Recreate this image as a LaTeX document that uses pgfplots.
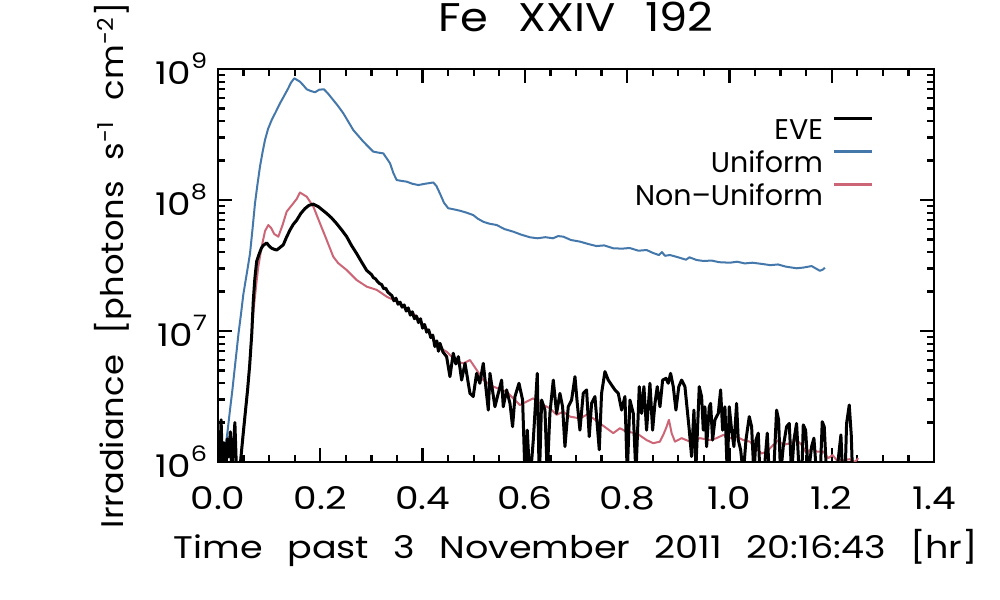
\documentclass[border=0pt]{standalone}
\usepackage{fontspec}
\setmainfont{Poppins}
\newfontfamily\tickfont{Poppins}[FakeStretch=1.2]
\newfontfamily\labfont{Poppins}[FakeStretch=1.12, WordSpace=2.5]
\newfontfamily\xlabfont{Poppins}[FakeStretch=1.17, WordSpace=2.5]
\newfontfamily\ylabfont{Poppins}[FakeStretch=1.08, WordSpace=2.3]
\usepackage{pgfplots}
\pgfplotsset{compat=1.18}
\definecolor{tolblue}{HTML}{4477AA}
\definecolor{tolrose}{HTML}{CC6677}
\newcommand\sups[1]{\raisebox{0.95ex}{\fontsize{8.5}{10}\selectfont #1}}
\pgfplotstableread{
t v
0.008 0.8e6
0.012 1.1e6
0.016 1.4e6
0.020 1.9e6
0.024 2.6e6
0.028 3.5e6
0.032 4.9e6
0.036 6.8e6
0.040 9.5e6
0.045 1.35e7
0.0495 1.9e7
0.056 2.7e7
0.0626 3.9e7
0.0675 6.0e7
0.0723 9.4e7
0.077 1.3e8
0.0821 1.8e8
0.087 2.3e8
0.0919 2.87e8
0.098 3.5e8
0.105 4.08e8
0.113 4.7e8
0.1212 5.47e8
0.129 6.2e8
0.1374 7.13e8
0.143 7.9e8
0.1492 8.49e8
0.1545 8.25e8
0.1603 8.0e8
0.167 7.5e8
0.1734 7.0e8
0.181 6.8e8
0.1896 6.64e8
0.198 6.95e8
0.2072 7.0e8
0.215 6.5e8
0.2254 5.79e8
0.235 5.2e8
0.245 4.59e8
0.255 3.95e8
0.2645 3.42e8
0.274 3.1e8
0.2841 2.79e8
0.294 2.55e8
0.3036 2.34e8
0.313 2.3e8
0.3232 2.27e8
0.3363 1.91e8
0.343 1.6e8
0.3494 1.42e8
0.358 1.40e8
0.3689 1.38e8
0.380 1.33e8
0.3916 1.30e8
0.405 1.33e8
0.4209 1.36e8
0.427 1.28e8
0.434 1.12e8
0.442 9.5e7
0.4502 8.65e7
0.460 8.5e7
0.4731 8.28e7
0.486 8.0e7
0.4991 7.67e7
0.508 7.2e7
0.5187 6.82e7
0.530 6.6e7
0.5449 6.44e7
0.560 6.0e7
0.5773 5.73e7
0.592 5.45e7
0.610 5.19e7
0.625 5.1e7
0.640 5.2e7
0.655 5.1e7
0.665 5.3e7
0.675 5.25e7
0.690 4.95e7
0.7077 4.81e7
0.725 4.6e7
0.740 4.45e7
0.755 4.5e7
0.7728 4.28e7
0.790 4.25e7
0.805 4.3e7
0.822 4.1e7
0.8381 4.15e7
0.850 3.95e7
0.862 3.8e7
0.868 4.0e7
0.874 3.75e7
0.8837 3.8e7
0.900 3.65e7
0.915 3.5e7
0.922 3.65e7
0.9359 3.48e7
0.950 3.42e7
0.965 3.45e7
0.980 3.35e7
1.001 3.32e7
1.015 3.38e7
1.030 3.28e7
1.045 3.32e7
1.0661 3.24e7
1.080 3.18e7
1.095 3.22e7
1.110 3.1e7
1.1314 3.01e7
1.145 3.05e7
1.1607 3.13e7
1.1769 2.88e7
1.183 2.95e7
1.1867 3.04e7
}\uniform
\pgfplotstableread{
t v
0.040 0.9e6
0.044 1.0e6
0.050 1.8e6
0.055 2.8e6
0.060 4.6e6
0.065 8.5e6
0.070 1.5e7
0.075 2.3e7
0.0788 3.1e7
0.0854 4.4e7
0.092 5.8e7
0.0984 6.44e7
0.104 6.1e7
0.110 5.5e7
0.118 5.25e7
0.126 6.4e7
0.1343 8.15e7
0.1473 9.44e7
0.154 1.02e8
0.1603 1.14e8
0.1734 1.06e8
0.1864 8.9e7
0.1994 6.64e7
0.2125 4.95e7
0.2254 3.69e7
0.2352 3.29e7
0.2516 2.92e7
0.2711 2.45e7
0.2907 2.18e7
0.3103 2.06e7
0.3298 1.83e7
0.3558 1.63e7
0.3885 1.29e7
0.410 1.02e7
0.434 7.38e6
0.447 6.95e6
0.4666 5.84e6
0.4796 5.66e6
0.4927 6.0e6
0.5057 5.04e6
0.5187 4.22e6
0.5383 3.76e6
0.5643 3.44e6
0.5904 2.72e6
0.6034 2.89e6
0.6165 3.06e6
0.6295 2.8e6
0.649 2.57e6
0.6621 2.29e6
0.6751 2.42e6
0.6881 2.22e6
0.7077 2.15e6
0.7207 2.29e6
0.7338 2.15e6
0.7468 1.97e6
0.7598 1.81e6
0.7729 1.66e6
0.7859 1.81e6
0.7989 1.7e6
0.8185 1.66e6
0.838 1.47e6
0.8511 1.39e6
0.8641 1.43e6
0.8707 1.61e6
0.8772 1.86e6
0.8817 2.1e6
0.887 1.66e6
0.8935 1.43e6
0.9065 1.52e6
0.9228 1.43e6
0.9423 1.52e6
0.9619 1.47e6
0.9749 1.52e6
0.988 1.61e6
1.001 1.52e6
1.014 1.56e6
1.0271 1.47e6
1.0401 1.43e6
1.0531 1.27e6
1.0629 1.16e6
1.0727 1.2e6
1.0857 1.35e6
1.0955 1.47e6
1.1053 1.35e6
1.1183 1.39e6
1.1313 1.47e6
1.1411 1.35e6
1.1509 1.16e6
1.1607 1.27e6
1.1704 1.2e6
1.1835 1.2e6
1.1933 1.07e6
1.2017 1.13e6
1.2095 1.035e6
1.2226 1.035e6
1.2356 1.05e6
1.2454 1.0e6
1.252 1.07e6
}\nonuniform
\pgfplotstableread{
t v
0.000 1.2e6
0.003 0.85e6
0.006 2.1e6
0.009 0.9e6
0.012 1.4e6
0.015 0.7e6
0.018 1.5e6
0.021 1.1e6
0.024 1.7e6
0.027 0.8e6
0.030 1.3e6
0.033 2.0e6
0.036 0.9e6
0.039 0.6e6
0.042 0.8e6
0.045 1.1e6
0.049 1.6e6
0.053 2.3e6
0.058 3.6e6
0.062 5.5e6
0.066 9.5e6
0.069 1.7e7
0.072 2.5e7
0.0756 3.4e7
0.0808 3.9e7
0.0850 4.3e7
0.0886 4.5e7
0.0952 4.7e7
0.100 4.45e7
0.105 4.28e7
0.110 4.2e7
0.1147 4.15e7
0.120 4.3e7
0.1277 4.55e7
0.134 5.2e7
0.1408 5.9e7
0.147 6.5e7
0.1538 7.0e7
0.162 7.9e7
0.1701 8.6e7
0.178 9.1e7
0.1864 9.3e7
0.1961 8.9e7
0.204 8.4e7
0.2125 7.9e7
0.222 7.3e7
0.232 6.6e7
0.242 5.9e7
0.2516 5.25e7
0.261 4.5e7
0.2711 3.9e7
0.281 3.35e7
0.2907 2.9e7
0.300 2.70e7
0.304 2.55e7
0.308 2.50e7
0.312 2.38e7
0.316 2.30e7
0.320 2.26e7
0.324 2.10e7
0.328 2.12e7
0.332 1.98e7
0.336 1.92e7
0.340 1.86e7
0.344 1.70e7
0.348 1.78e7
0.352 1.60e7
0.356 1.66e7
0.360 1.52e7
0.364 1.58e7
0.368 1.42e7
0.372 1.50e7
0.376 1.32e7
0.380 1.40e7
0.384 1.24e7
0.388 1.30e7
0.392 1.16e7
0.396 1.24e7
0.400 1.05e7
0.404 1.12e7
0.408 9.8e6
0.412 1.02e7
0.416 8.9e6
0.420 9.3e6
0.424 7.6e6
0.428 8.4e6
0.431 7.0e6
0.434 8.05e6
0.440 6.9e6
0.447 6.37e6
0.4535 4.48e6
0.460 6.76e6
0.465 5.6e6
0.470 6.37e6
0.4764 4.22e6
0.483 5.66e6
0.4927 3.34e6
0.499 3.16e6
0.5057 4.75e6
0.512 3.99e6
0.5187 5.66e6
0.5285 2.49e6
0.5318 4.75e6
0.5415 2.64e6
0.548 3.34e6
0.5546 4.22e6
0.5578 2.64e6
0.5643 3.55e6
0.5709 2.8e6
0.576 1.86e6
0.5807 3.16e6
0.5885 3.99e6
0.5956 2.97e6
0.6002 0.8e6
0.6047 1.75e6
0.610 0.7e6
0.6165 1.47e6
0.6243 4.75e6
0.6282 0.7e6
0.6328 2.97e6
0.6393 2.49e6
0.6438 0.8e6
0.649 2.35e6
0.6556 4.22e6
0.6621 2.35e6
0.6686 3.34e6
0.6738 2.64e6
0.6784 1.31e6
0.6849 2.64e6
0.6914 2.97e6
0.698 4.48e6
0.7025 2.8e6
0.7077 1.75e6
0.7142 3.34e6
0.7207 3.55e6
0.7259 1.56e6
0.7305 2.8e6
0.737 3.16e6
0.7455 1.24e6
0.750 3.34e6
0.7566 4.9e6
0.7631 4.22e6
0.7696 3.87e6
0.7761 3.55e6
0.7827 3.34e6
0.7892 2.49e6
0.7957 3.16e6
0.8002 0.8e6
0.8055 2.97e6
0.812 2.35e6
0.8172 0.8e6
0.8237 3.76e6
0.8283 2.35e6
0.8328 3.76e6
0.838 1.75e6
0.8446 3.99e6
0.8498 1.75e6
0.8544 2.8e6
0.8589 3.76e6
0.8642 2.64e6
0.8694 4.22e6
0.8759 4.35e6
0.8804 3.99e6
0.885 4.75e6
0.8902 3.76e6
0.8954 2.49e6
0.901 3.76e6
0.9065 4.22e6
0.913 3.76e6
0.9176 2.49e6
0.9215 1.75e6
0.926 1.1e6
0.9306 2.49e6
0.9345 0.9e6
0.941 3.76e6
0.9456 3.16e6
0.9489 1.75e6
0.9521 2.64e6
0.9554 1.31e6
0.9606 2.64e6
0.9632 2.8e6
0.9671 1.47e6
0.9717 2.1e6
0.9782 2.35e6
0.9828 3.55e6
0.9867 1.75e6
0.9912 2.64e6
0.9958 0.8e6
0.9997 2.64e6
1.0043 1.75e6
1.0088 1.31e6
1.014 2.8e6
1.0173 1.47e6
1.0219 1.24e6
1.0271 0.8e6
1.0323 1.47e6
1.0388 2.22e6
1.0434 1.86e6
1.0479 0.8e6
1.0518 1.47e6
1.0564 1.66e6
1.0597 0.8e6
1.0662 0.7e6
1.074 1.66e6
1.0779 0.8e6
1.0857 0.7e6
1.0922 2.49e6
1.0962 2.1e6
1.100 0.8e6
1.1053 1.31e6
1.1118 1.86e6
1.117 1.97e6
1.1216 0.8e6
1.1261 1.47e6
1.1313 1.97e6
1.1366 0.8e6
1.1411 0.7e6
1.1444 1.92e6
1.149 1.75e6
1.1542 0.8e6
1.1607 1.31e6
1.1652 1.52e6
1.1704 0.8e6
1.177 0.7e6
1.1815 2.03e6
1.1854 1.86e6
1.190 0.8e6
1.1998 0.7e6
1.2095 0.8e6
1.218 1.61e6
1.2213 0.8e6
1.2258 0.7e6
1.2291 1.97e6
1.2343 2.72e6
1.2382 1.61e6
1.2408 0.8e6
}\eve
\begin{document}
\fontsize{12.5}{15}\selectfont
\begin{tikzpicture}
\path[use as bounding box] (0,0) rectangle (400pt,240pt);
\begin{axis}[
  at={(87.2pt,55.2pt)}, anchor=south west,
  scale only axis, width=286.4pt, height=157.2pt,
  xmin=0, xmax=1.4,
  ymode=log, ymin=1e6, ymax=1e9,
  xtick={0,0.2,0.4,0.6,0.8,1.0,1.2,1.4},
  xticklabels={0.0,0.2,0.4,0.6,0.8,1.0,1.2,1.4},
  minor x tick num=3,
  ytick={1e6,1e7,1e8,1e9},
  yticklabels={10\sups{6},10\sups{7},10\sups{8},10\sups{9}},
  minor ytick={2e6,3e6,4e6,5e6,6e6,7e6,8e6,9e6,2e7,3e7,4e7,5e7,6e7,7e7,8e7,9e7,2e8,3e8,4e8,5e8,6e8,7e8,8e8,9e8},
  tick align=inside,
  major tick length=5.6pt, minor tick length=2.8pt,
  every tick/.style={black, line width=0.9pt},
  axis line style={line width=1.1pt},
  ticklabel style={font=\tickfont\fontsize{12.5}{15}\selectfont},
  xticklabel style={yshift=-5.5pt},
  title={Fe XXIV 192},
  title style={at={(axis description cs:0.5,1)}, anchor=center, yshift=14.8pt, font=\labfont\fontsize{16}{19}\selectfont},
  xlabel={Time past 3 November 2011 20:16:43 [hr]},
  xlabel style={at={(axis description cs:0.5,0)}, anchor=center, yshift=-34.4pt, font=\xlabfont\fontsize{12.5}{15}\selectfont},
  ylabel={Irradiance [photons s\textsuperscript{-1} cm\textsuperscript{-2}]},
  ylabel style={at={(axis description cs:-0.146,0.5)}, anchor=center, font=\ylabfont\fontsize{12.5}{15}\selectfont},
  legend style={at={(rel axis cs:1,1)}, anchor=north east, xshift=-20.8pt, yshift=-17pt,
    draw=none, fill=none, font=\fontsize{11.4}{14}\selectfont,
    column sep=4pt, row sep=4.2pt,
    nodes={inner sep=0pt, text height=9pt, text depth=0pt}},
  legend cell align=right,
  legend plot pos=right,
  legend image code/.code={\draw[#1] (0pt,4pt) -- (15.2pt,4pt);},
]
\addlegendimage{black, line width=1.2pt}
\addlegendentry{EVE}
\addlegendimage{tolblue, line width=1pt}
\addlegendentry{Uniform}
\addlegendimage{tolrose, line width=1pt}
\addlegendentry{Non\textendash Uniform}
\addplot[tolblue, line width=0.8pt, line join=round, forget plot] table[x=t, y=v] {\uniform};
\addplot[tolrose, line width=0.8pt, line join=round, forget plot] table[x=t, y=v] {\nonuniform};
\addplot[black, line width=1.2pt, line join=round, forget plot] table[x=t, y=v] {\eve};
\end{axis}
\end{tikzpicture}
\end{document}
